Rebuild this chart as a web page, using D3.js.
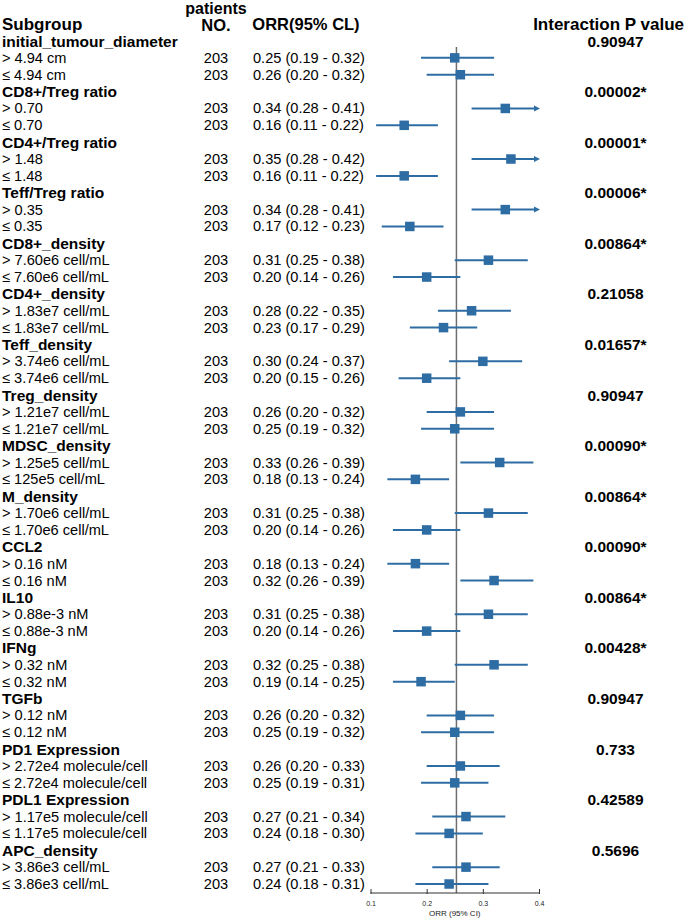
<!DOCTYPE html>
<html>
<head>
<meta charset="utf-8">
<script src="https://cdn.jsdelivr.net/npm/d3@7"></script>
<style>
  body { margin: 0; background: #fff; }
  svg { display: block; font-family: "Liberation Sans", Arial, sans-serif; }
</style>
</head>
<body>
<svg width="686" height="920"></svg>
<script>
// subgroup titles and interaction p values
var groups = ["initial_tumour_diameter", "CD8+/Treg ratio", "CD4+/Treg ratio", "Teff/Treg ratio",
  "CD8+_density", "CD4+_density", "Teff_density", "Treg_density", "MDSC_density", "M_density",
  "CCL2", "IL10", "IFNg", "TGFb", "PD1 Expression", "PDL1 Expression", "APC_density"];
var pvalues = ["0.90947", "0.00002*", "0.00001*", "0.00006*", "0.00864*", "0.21058", "0.01657*",
  "0.90947", "0.00090*", "0.00864*", "0.00090*", "0.00864*", "0.00428*", "0.90947", "0.733",
  "0.42589", "0.5696"];

// two rows per subgroup
var labels = ["> 4.94 cm", "≤ 4.94 cm", "> 0.70", "≤ 0.70", "> 1.48", "≤ 1.48", "> 0.35", "≤ 0.35",
  "> 7.60e6 cell/mL", "≤ 7.60e6 cell/mL", "> 1.83e7 cell/mL", "≤ 1.83e7 cell/mL",
  "> 3.74e6 cell/mL", "≤ 3.74e6 cell/mL", "> 1.21e7 cell/mL", "≤ 1.21e7 cell/mL",
  "> 1.25e5 cell/mL", "≤ 125e5 cell/mL", "> 1.70e6 cell/mL", "≤ 1.70e6 cell/mL",
  "> 0.16 nM", "≤ 0.16 nM", "> 0.88e-3 nM", "≤ 0.88e-3 nM", "> 0.32 nM", "≤ 0.32 nM",
  "> 0.12 nM", "≤ 0.12 nM", "> 2.72e4 molecule/cell", "≤ 2.72e4 molecule/cell",
  "> 1.17e5 molecule/cell", "≤ 1.17e5 molecule/cell", "> 3.86e3 cell/mL", "≤ 3.86e3 cell/mL"];
var patients = [203, 203, 203, 203, 203, 203, 203, 203, 203, 203, 203, 203, 203, 203, 203, 203, 203,
  203, 203, 203, 203, 203, 203, 203, 203, 203, 203, 203, 203, 203, 203, 203, 203, 203];
var orr = [0.25, 0.26, 0.34, 0.16, 0.35, 0.16, 0.34, 0.17, 0.31, 0.20, 0.28, 0.23, 0.30, 0.20,
  0.26, 0.25, 0.33, 0.18, 0.31, 0.20, 0.18, 0.32, 0.31, 0.20, 0.32, 0.19, 0.26, 0.25, 0.26, 0.25,
  0.27, 0.24, 0.27, 0.24];
var lower = [0.19, 0.20, 0.28, 0.11, 0.28, 0.11, 0.28, 0.12, 0.25, 0.14, 0.22, 0.17, 0.24, 0.15,
  0.20, 0.19, 0.26, 0.13, 0.25, 0.14, 0.13, 0.26, 0.25, 0.14, 0.25, 0.14, 0.20, 0.19, 0.20, 0.19,
  0.21, 0.18, 0.21, 0.18];
var upper = [0.32, 0.32, 0.41, 0.22, 0.42, 0.22, 0.41, 0.23, 0.38, 0.26, 0.35, 0.29, 0.37, 0.26,
  0.32, 0.32, 0.39, 0.24, 0.38, 0.26, 0.24, 0.39, 0.38, 0.26, 0.38, 0.25, 0.32, 0.32, 0.33, 0.31,
  0.34, 0.30, 0.33, 0.31];
var overall = 0.253;
var ticks = [0.1, 0.2, 0.3, 0.4];

var svg = d3.select("svg");
var blue = "#2e6ca4";

var x = d3.scaleLinear().domain([0.1, 0.4]).range([370.5, 539]);
var rowY = function(i){ return 41 + i * 16.86; };

// build row list: group title then its two subgroups
var rows = [];
for(var g = 0; g < groups.length; g++){
  rows.push({type: "group", text: groups[g], p: pvalues[g]});
  for(var k = 0; k < 2; k++){
    var j = g * 2 + k;
    rows.push({type: "sub", text: labels[j], n: patients[j], est: orr[j], lo: lower[j], hi: upper[j]});
  }
}
rows.forEach(function(d, i){ d.y = rowY(i); });

// headers
var head = svg.append("g").attr("font-weight", "bold").attr("font-size", 17).attr("dominant-baseline", "central");
head.append("text").attr("x", 2).attr("y", rowY(-1)).text("Subgroup");
head.append("text").attr("x", 216).attr("y", 8.5).attr("text-anchor", "middle").attr("font-size", 16).text("patients");
head.append("text").attr("x", 216).attr("y", rowY(-1) + 0.5).attr("text-anchor", "middle").attr("font-size", 16.5).text("NO.");
head.append("text").attr("x", 306).attr("y", rowY(-1)).attr("text-anchor", "middle").attr("font-size", 16.5).text("ORR(95% CL)");
head.append("text").attr("x", 684).attr("y", rowY(-1)).attr("text-anchor", "end").text("Interaction P value");

// reference line
svg.append("line")
  .attr("x1", x(overall)).attr("x2", x(overall))
  .attr("y1", 47).attr("y2", 893)
  .attr("stroke", "#6e6e6e").attr("stroke-width", 1.5);

var groupRows = rows.filter(function(d){ return d.type == "group"; });
var subRows = rows.filter(function(d){ return d.type == "sub"; });

svg.append("g").selectAll("text").data(groupRows).enter().append("text")
  .attr("x", 2).attr("y", function(d){ return d.y; })
  .attr("dominant-baseline", "central")
  .attr("font-weight", "bold").attr("font-size", 15.5)
  .text(function(d){ return d.text; });

svg.append("g").selectAll("text").data(groupRows).enter().append("text")
  .attr("x", 615.5).attr("y", function(d){ return d.y; })
  .attr("text-anchor", "middle").attr("dominant-baseline", "central")
  .attr("font-weight", "bold").attr("font-size", 15.5)
  .text(function(d){ return d.p; });

var sub = svg.append("g").attr("font-size", 14.6).attr("dominant-baseline", "central");
sub.selectAll("text.lab").data(subRows).enter().append("text").attr("class", "lab")
  .attr("x", 2).attr("y", function(d){ return d.y; })
  .text(function(d){ return d.text; });
sub.selectAll("text.n").data(subRows).enter().append("text").attr("class", "n")
  .attr("x", 216).attr("y", function(d){ return d.y; }).attr("text-anchor", "middle")
  .text(function(d){ return d.n; });
sub.selectAll("text.ci").data(subRows).enter().append("text").attr("class", "ci")
  .attr("x", 253).attr("y", function(d){ return d.y; })
  .text(function(d){
    return d.est.toFixed(2) + " (" + d.lo.toFixed(2) + " - " + d.hi.toFixed(2) + ")";
  });

// confidence intervals
var maxV = x.domain()[1];
var ci = svg.append("g");
ci.selectAll("line").data(subRows).enter().append("line")
  .attr("x1", function(d){ return x(d.lo); })
  .attr("x2", function(d){ return d.hi > maxV ? x(maxV) - 3 : x(d.hi); })
  .attr("y1", function(d){ return d.y; }).attr("y2", function(d){ return d.y; })
  .attr("stroke", blue).attr("stroke-width", 2);

// arrow heads for clipped intervals
ci.selectAll("path").data(subRows.filter(function(d){ return d.hi > maxV; })).enter().append("path")
  .attr("d", function(d){
    var xe = x(maxV) + 1;
    return "M" + (xe - 6) + "," + (d.y - 3) + "L" + xe + "," + d.y + "L" + (xe - 6) + "," + (d.y + 3) + "Z";
  })
  .attr("fill", blue);

ci.selectAll("rect").data(subRows).enter().append("rect")
  .attr("x", function(d){ return x(d.est) - 4.75; })
  .attr("y", function(d){ return d.y - 4.75; })
  .attr("width", 9.5).attr("height", 9.5)
  .attr("fill", blue);

// axis
var axis = svg.append("g").attr("transform", "translate(0,893)")
  .call(d3.axisBottom(x).tickValues(ticks).tickSize(-4).tickPadding(8).tickFormat(d3.format(".1f")));
axis.select(".domain").attr("stroke", "#333").attr("d", "M" + x(0.1) + ",0H" + x(0.4));
axis.selectAll(".tick line").attr("stroke", "#333").attr("y1", 1);
axis.selectAll(".tick text").attr("font-size", 7).attr("font-family", "Liberation Sans, Arial, sans-serif").attr("fill", "#222");

svg.append("text")
  .attr("x", (x(0.1) + x(0.4)) / 2).attr("y", 913)
  .attr("text-anchor", "middle").attr("dominant-baseline", "central")
  .attr("font-size", 8).attr("fill", "#222")
  .text("ORR (95% CI)");
</script>
</body>
</html>
